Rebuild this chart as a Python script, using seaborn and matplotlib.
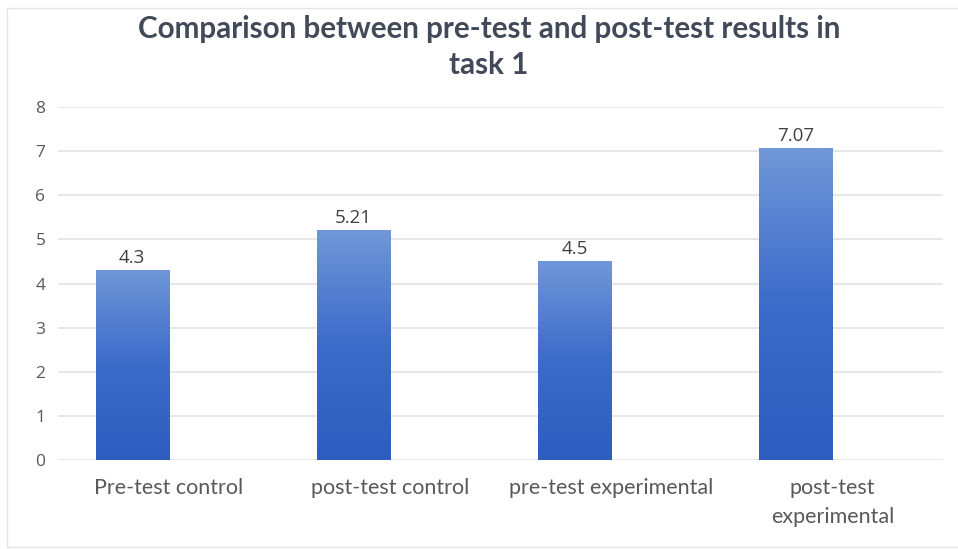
import numpy as np
import pandas as pd
import matplotlib
matplotlib.use("Agg")
import matplotlib.pyplot as plt
from matplotlib.colors import LinearSegmentedColormap
from matplotlib.patches import Rectangle
import seaborn as sns

# Mean scores in task 1 (second series is empty, it only reserves its slot)
groups = ["Pre-test control", "post-test control", "pre-test experimental", "post-test\nexperimental"]
scores = [4.3, 5.21, 4.5, 7.07]
score_labels = ["4.3", "5.21", "4.5", "7.07"]
series = ["Series1", "Series2"]
y_ticks = [0, 1, 2, 3, 4, 5, 6, 7, 8]

df = pd.DataFrame({
    "group": groups * 2,
    "score": scores + [np.nan] * len(groups),
    "series": [series[0]] * len(groups) + [series[1]] * len(groups),
})

sns.set_theme(style="white")
plt.rcParams["font.family"] = ["Open Sans", "DejaVu Sans"]

fig = plt.figure(figsize=(9.58, 5.49), dpi=100)
fig.patch.set_facecolor("white")

# light frame around the chart area
fig.patches.append(Rectangle((7 / 958, 1 - 547 / 549), 1.0, (547 - 8) / 549,
                             transform=fig.transFigure, fill=False,
                             edgecolor="#e6e6e6", linewidth=1.0, zorder=0))

ax = fig.add_axes([58 / 958, 1 - 460 / 549, (943 - 58) / 958, (460 - 107) / 549])

sns.barplot(data=df, x="group", y="score", hue="series", hue_order=series,
            order=groups, ax=ax, width=0.66, dodge=True,
            palette=["#4472c4", "#ed7d31"], saturation=1, edgecolor="none",
            legend=False)

ax.set_ylim(0, 8)
ax.set_xlim(-0.5, len(groups) - 0.5)
ax.set_yticks(y_ticks)
ax.set_yticklabels([str(t) for t in y_ticks], fontsize=12.5, color="#595959")
ax.set_xlabel("")
ax.set_ylabel("")
ax.tick_params(axis="x", length=0, pad=13)
ax.tick_params(axis="y", length=0, pad=9)
for lbl in ax.get_xticklabels():
    lbl.set_fontfamily(["Lato", "DejaVu Sans"])
    lbl.set_fontsize(15.5)
    lbl.set_color("#595959")
    lbl.set_linespacing(1.55)
    lbl.set_verticalalignment("top")

ax.grid(axis="y", color="#e3e3e3", linewidth=1.2)
ax.set_axisbelow(True)
for s in ax.spines.values():
    s.set_visible(False)

# vertical gradient fill for each drawn bar (lighter at the top)
cmap = LinearSegmentedColormap.from_list("barfade", ["#2d5dbf", "#3c6bc9", "#7097d8"])
grad = np.linspace(0, 1, 256).reshape(-1, 1)
bars = [p for p in ax.patches if np.isfinite(p.get_height()) and p.get_height() > 0]
for patch, txt in zip(bars, score_labels):
    x0, y0 = patch.get_x(), patch.get_y()
    w, h = patch.get_width(), patch.get_height()
    img = ax.imshow(grad, cmap=cmap, aspect="auto", origin="lower",
                    extent=[x0, x0 + w, y0, y0 + h], zorder=2)
    img.set_clip_path(patch)
    patch.set_facecolor("none")
    ax.text(x0 + w / 2, y0 + h + 0.08, txt, ha="center", va="bottom",
            fontsize=13.5, color="#404040", zorder=3)

ax.set_xlim(-0.5, len(groups) - 0.5)
ax.set_ylim(0, 8)

title_kw = dict(ha="center", va="center", fontsize=21.3, fontweight="bold",
                color="#424a5a", family=["Lato", "DejaVu Sans"])
fig.text(489 / 958, 1 - 29 / 549, "Comparison between pre-test and post-test results in", **title_kw)
fig.text(489 / 958, 1 - 65 / 549, "task 1", **title_kw)

fig.savefig("out.png", dpi=100, facecolor="white")
